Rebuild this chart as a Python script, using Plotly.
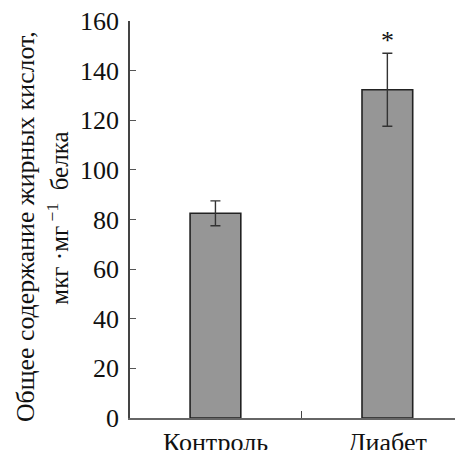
import plotly.graph_objects as go

categories = ["Контроль", "Диабет"]
values = [82.5, 132.3]
errors = [5, 14.7]
significance = ["", "*"]
y_ticks = [0, 20, 40, 60, 80, 100, 120, 140, 160]

FONT = "Liberation Serif"
xpos = list(range(len(categories)))

fig = go.Figure()
fig.add_trace(go.Bar(
    x=xpos, y=values, width=0.295,
    marker=dict(color="#969696", line=dict(color="#222222", width=1.6)),
    error_y=dict(type="data", array=errors, visible=True, color="#333333",
                 thickness=1.4, width=5),
    showlegend=False,
))

for xi, v, e, s in zip(xpos, values, errors, significance):
    if s:
        fig.add_annotation(x=xi, y=v + e, text=s, showarrow=False, yshift=13,
                           font=dict(family=FONT, size=26, color="#111"))

fig.add_annotation(xref="paper", yref="paper", x=-0.316, y=0.483, xanchor="center",
                   yanchor="middle", text="Общее содержание жирных кислот,",
                   textangle=-90, showarrow=False,
                   font=dict(family=FONT, size=25.8, color="#111"))
fig.add_annotation(xref="paper", yref="paper", x=-0.217, y=0.504, xanchor="center",
                   yanchor="middle",
                   text="мкг&nbsp;·мг<sup>&nbsp;−1</sup>&nbsp;&nbsp;белка",
                   textangle=-90, showarrow=False,
                   font=dict(family=FONT, size=25, color="#111"))

fig.update_layout(
    width=455, height=442,
    margin=dict(l=121.5, r=0, t=13, b=32),
    plot_bgcolor="white", paper_bgcolor="white",
    font=dict(family=FONT, size=26, color="#111"),
    xaxis=dict(range=[-0.497, 1.44], tickvals=xpos, ticktext=categories,
               ticks="", showgrid=False, zeroline=False, showline=True,
               automargin=False, ticklabeloverflow="allow",
               linecolor="#666666", linewidth=1.5,
               minor=dict(tickvals=[0.5], ticks="inside", ticklen=7,
                          tickcolor="#444", tickwidth=1, showgrid=False),
               tickfont=dict(family=FONT, size=26)),
    yaxis=dict(range=[0, 160], tickvals=y_ticks, ticks="inside", ticklen=6,
               automargin=False, ticklabelstandoff=4, ticklabeloverflow="allow",
               tickcolor="#555", showgrid=False, zeroline=False, showline=True,
               linecolor="#444444", linewidth=1.5,
               tickfont=dict(family=FONT, size=26)),
)

fig.write_html("out.html")
